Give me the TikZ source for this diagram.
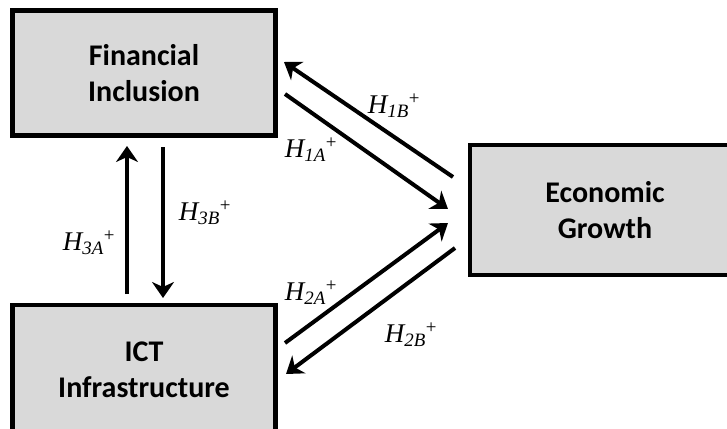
\documentclass[tikz,border=0pt]{standalone}
\usepackage{amsmath}
\usepackage{fontspec}
\setmainfont{Liberation Serif}
\newfontfamily\boxfont{Carlito}
\usetikzlibrary{arrows.meta}
\tikzset{
  factor/.style={draw=black, line width=4.5pt, fill=gray!30, inner sep=0pt,
    font=\boxfont\bfseries\fontsize{30}{36}\selectfont, align=center},
  link/.style={line width=4pt, -{Stealth[length=16pt,width=22pt,inset=5pt]}},
  hlab/.style={font=\fontsize{27}{30}\selectfont}
}
\newcommand\Hlab[1]{$\textit{H}_{\textit{#1}}{}^{\textrm{+}}$}
\begin{document}
\begin{tikzpicture}[x=1pt,y=-1pt]
\useasboundingbox (0,0) rectangle (727,428);
\node[factor, minimum width=263pt, minimum height=125pt] (fi) at (144,73) {Financial\\Inclusion};
\node[factor, minimum width=263pt, minimum height=130pt] (ict) at (144,370) {ICT\\Infrastructure};
\node[factor, minimum width=270pt, minimum height=130pt] (eg) at (605,210) {Economic\\Growth};
% connector end points
\coordinate (b1s) at (453,177); \coordinate (b1e) at (284,62);
\coordinate (a1s) at (285,94);  \coordinate (a1e) at (448,209);
\coordinate (a2s) at (285,343); \coordinate (a2e) at (448,223);
\coordinate (b2s) at (455,248); \coordinate (b2e) at (286,374);
\coordinate (a3s) at (127,294); \coordinate (a3e) at (127,146);
\coordinate (b3s) at (163,147); \coordinate (b3e) at (163,298);
\draw[link] (b1s) -- (b1e);
\draw[link] (a1s) -- (a1e);
\draw[link] (a2s) -- (a2e);
\draw[link] (b2s) -- (b2e);
\draw[link] (a3s) -- (a3e);
\draw[link] (b3s) -- (b3e);
\node[hlab] (l1b) at (394,106) {\Hlab{1B}};
\node[hlab] (l1a) at (311,150) {\Hlab{1A}};
\node[hlab] (l3b) at (205,213) {\Hlab{3B}};
\node[hlab] (l3a) at (89,243) {\Hlab{3A}};
\node[hlab] (l2a) at (311,293) {\Hlab{2A}};
\node[hlab] (l2b) at (411,335) {\Hlab{2B}};
\end{tikzpicture}
\end{document}
